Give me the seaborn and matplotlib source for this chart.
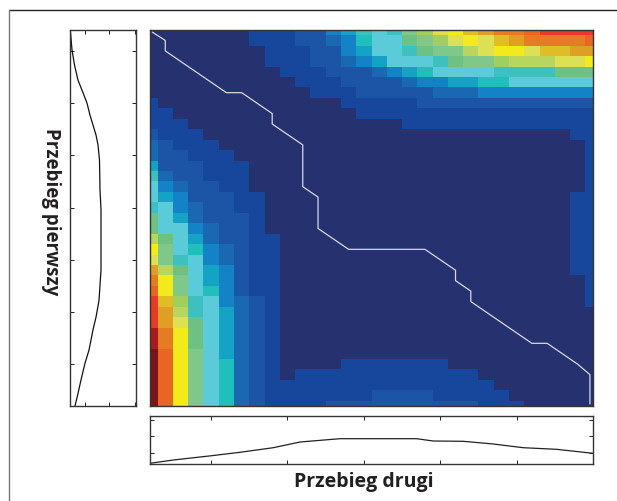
import numpy as np
import matplotlib
matplotlib.use('Agg')
import matplotlib.pyplot as plt
from matplotlib.colors import ListedColormap
from matplotlib.lines import Line2D
import seaborn as sns

# colour level of each cell, rows top to bottom
levels = [
    [0]*7 + [1,1,1,2,2,4,5,7, 8,7,10,11,13,14,15,16,17,17,18,19,19,19,19],
    [0]*7 + [1,1,1,2,2,3,4,6, 8,8,9,10,11,13,14,13,15,16,17,17,17,17,18],
    [0]*8 + [1,1,1,2,2,4,5, 8,8,7,9,10,10,12,13,14,14,13,15,15,16,16],
    [0]*8 + [1,1,1,2,2,3,4, 5,8,8,8,7,9,10,10,11,12,12,12,13,13,14],
    [0]*9 + [1,1,1,2,2,2, 3,4,5,6,8,8,8,8,7,7,7,7,9,9,9],
    [0]*10 + [1,1,1,2,2, 2,2,3,4,4,5,5,6,6,8,8,8,8,8,8],
    [0]*11 + [1,1,1,2, 2,2,2,2,3,3,3,4,4,4,4,4,4,4,4],
    [1] + [0]*12 + [1]*5 + [2]*12,
    [1,1] + [0]*12 + [1]*16,
    [1,1,1] + [0]*14 + [1]*13,
    [2,1,1,1] + [0]*24 + [1,1],
    [3,2,1,1,1] + [0]*24 + [1],
    [3,2,2,1,1,1] + [0]*23 + [1],
    [5,2,2,2,1,1,1] + [0]*22 + [1],
    [7,3,2,2,1,1,1] + [0]*22 + [1],
    [8,4,3,2,2,1,1] + [0]*22 + [1],
    [8,5,4,2,2,2,1,1] + [0]*20 + [1,1],
    [7,8,4,3,2,2,1,1] + [0]*20 + [1,1],
    [9,8,5,3,2,2,2,1] + [0]*20 + [1,1],
    [9,8,8,4,3,2,2,1] + [0]*20 + [1,1],
    [12,9,8,5,3,2,2,1,1] + [0]*19 + [1,1],
    [14,10,8,6,4,3,2,1,1] + [0]*19 + [1,1],
    [13,10,7,8,4,3,2,1,1] + [0]*19 + [1,1],
    [16,12,9,8,5,4,2,1,1] + [0]*19 + [1,1],
    [17,14,10,8,5,4,2,1,1] + [0]*20 + [1],
    [18,14,10,8,6,4,2,1,1] + [0]*20 + [1],
    [19,15,11,7,8,4,3,2,1] + [0]*20 + [1],
    [19,16,12,7,8,5,3,2,1] + [0]*21,
    [19,16,13,9,8,5,3,2,1] + [0]*21,
    [20,17,14,9,8,5,3,2,1] + [0]*21,
    [20,17,14,9,8,5,3,2,1] + [0]*21,
    [21,18,14,10,8,5,3,2,1] + [0]*21,
    [21,18,14,10,8,6,3,2,1] + [0]*4 + [1]*7 + [0]*10,
    [21,18,14,10,8,6,3,2,1] + [0] + [1]*12 + [0]*8,
    [21,18,14,10,8,6,3,2,1] + [1]*14 + [0]*7,
    [21,18,14,10,8,6,3,2,1] + [1]*6 + [2]*4 + [1]*5 + [0]*6,
    [21,18,14,10,8,6,3,2,1] + [1]*3 + [2]*10 + [1]*3 + [0]*5,
]

# warping path through the matrix
path_col = [0.15, 1, 1, 2, 3, 4, 5, 6, 7, 8, 8, 10, 10, 11, 11, 13, 18, 20, 20, 21, 21, 23, 25, 26, 28, 28.8, 28.8]
path_row = [0.2, 1, 2, 3, 4, 5, 6, 6, 7, 8, 9, 11, 15, 16, 19, 21, 21, 23, 24, 25, 26, 28, 30, 30, 32, 33, 35.8]

# side curves
first_amp = [0.3, 2, 4.5, 8, 13, 17, 20, 26, 28, 29.5, 30, 31, 31, 31, 30.5, 29, 26, 23, 19, 15, 11, 8, 5]
first_pos = [0, 1.9, 3.35, 4.8, 6, 7, 8.15, 10.05, 11, 12.45, 15.3, 17.2, 20.1, 23, 23.7, 25.9, 27.5, 28.7, 30.65, 31.9, 33.5, 34.8, 36]
second_pos = [0, 1.53, 4.04, 5.89, 8.07, 9.82, 12.43, 17.45, 18.54, 20.5, 22.47, 24.43, 26.6, 29]
second_amp = [0.7, 4, 8.3, 11.7, 16.3, 22, 25.3, 25.3, 23, 22.7, 20, 16.3, 14.7, 10.7]

colors = ['#26316f', '#16479c', '#1c55a6', '#1b68b2', '#1482c6', '#14a3c4', '#20bfbc', '#3ebfc0',
          '#5ccbd9', '#6dc183', '#80c78a', '#9fd05f', '#b7d55f', '#dce052', '#f2ea1a', '#e0bd27',
          '#e09e24', '#e57c23', '#e86622', '#e93a25', '#a81c20', '#7a1416']

W, H = 617, 501
INK = '#231f20'


def px_axes(fig, left, top, right, bottom):
    return fig.add_axes([left / W, 1 - bottom / H, (right - left) / W, (bottom - top) / H])


def frame(ax):
    for s in ax.spines.values():
        s.set_visible(True)
        s.set_linewidth(1.0)
        s.set_color('#333333')
    ax.tick_params(top=True, bottom=True, left=True, right=True, direction='in',
                   length=3, width=0.7, color='#222222',
                   labelleft=False, labelbottom=False, labeltop=False, labelright=False)
    ax.set_xlabel('')
    ax.set_ylabel('')


if __name__ == "__main__":
    sns.set_theme(style="white")
    plt.rcParams['font.family'] = ['Open Sans', 'DejaVu Sans']

    fig = plt.figure(figsize=(W / 100, H / 100), dpi=100, facecolor='white')

    ax = px_axes(fig, 150, 30, 593, 406)
    sns.heatmap(np.array(levels), ax=ax, cmap=ListedColormap(colors), vmin=-0.5, vmax=21.5,
                cbar=False, linewidths=0, rasterized=True)
    sns.lineplot(x=np.array(path_col) + 0.5, y=np.array(path_row) + 0.5, sort=False, estimator=None,
                 color='#d8d8e0', linewidth=0.9, ax=ax)
    ax.set_xlim(0.5, 29.5)
    ax.set_ylim(36.5, 0.5)
    ax.set_xticks([4.5, 9.5, 14.5, 19.5, 24.5])
    ax.set_yticks([4.5, 9.5, 14.5, 19.5, 24.5, 29.5, 34.5])
    frame(ax)

    left = px_axes(fig, 70, 30, 136, 406)
    sns.lineplot(x=first_amp, y=first_pos, sort=False, estimator=None, color='#111111', linewidth=0.9, ax=left)
    left.set_xlim(0, 66)
    left.set_ylim(36, 0)
    left.set_xticks([14.7, 39, 65])
    left.set_yticks([2, 7, 12, 17, 22, 27, 32])
    frame(left)

    bottom = px_axes(fig, 150, 416, 593, 464)
    sns.lineplot(x=second_pos, y=second_amp, sort=False, estimator=None, color='#222222', linewidth=0.9, ax=bottom)
    bottom.set_xlim(0, 29)
    bottom.set_ylim(0, 48)
    bottom.set_xticks([4, 9, 14, 19, 24])
    bottom.set_yticks([11, 28, 44])
    frame(bottom)

    fig.text(364 / W, 1 - 482 / H, 'Przebieg drugi', ha='center', va='center',
             fontsize=14, fontweight='bold', color=INK)
    fig.text(51 / W, 1 - 212 / H, 'Przebieg pierwszy', ha='center', va='center', rotation=270,
             fontsize=13.5, fontweight='bold', color=INK)

    # page frame
    fig.add_artist(Line2D([8.5 / W, 1], [1 - 9.5 / H] * 2, color='#222222', linewidth=1.0))
    fig.add_artist(Line2D([8.5 / W] * 2, [0, 1 - 9.5 / H], color='#777777', linewidth=1.0))

    fig.savefig('out.png', dpi=100, facecolor='white')
